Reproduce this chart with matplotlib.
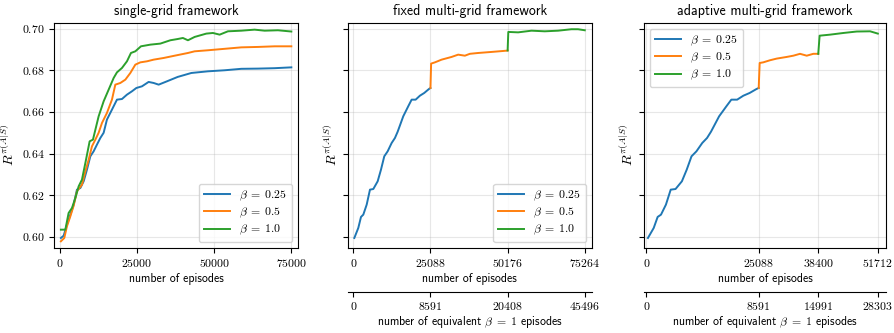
import numpy as np
import matplotlib
matplotlib.use('Agg')
import matplotlib.pyplot as plt

# 字体: 文字用 Computer Modern Sans, 数字/公式用 Computer Modern
plt.rcParams['font.family'] = ['cmss10', 'DejaVu Sans']
plt.rcParams['mathtext.fontset'] = 'cm'
plt.rcParams['axes.unicode_minus'] = False

labels = [r'$\beta\;=\;0.25$', r'$\beta\;=\;0.5$', r'$\beta\;=\;1.0$']
colors = ['#1f77b4', '#ff7f0e', '#2ca02c']
titles = ['single-grid framework', 'fixed multi-grid framework', 'adaptive multi-grid framework']
ylabel = r'$R^{\pi(A|S)}$'

# single-grid
single_blue_x = [400, 1300, 2360, 3460, 4530, 5600, 6700, 7770, 8840, 9930, 11000, 12070, 13170, 14240,
                 15300, 16930, 18550, 20170, 21790, 23400, 24830, 26650, 28800, 30430, 32050, 34740,
                 38200, 42630, 48000, 53410, 58800, 64200, 69600, 75000]
single_blue_y = [0.5995, 0.6006, 0.6059, 0.6107, 0.6155, 0.6227, 0.6235, 0.6267, 0.6323, 0.6387, 0.6411,
                 0.6443, 0.6475, 0.6500, 0.6563, 0.6611, 0.6659, 0.6662, 0.6683, 0.6699, 0.6715, 0.6723,
                 0.6744, 0.6739, 0.6731, 0.6747, 0.6768, 0.6787, 0.6795, 0.6800, 0.6807, 0.6808, 0.6810,
                 0.6814]
single_orange_x = [400, 1500, 2360, 3460, 4530, 5600, 7220, 8320, 9390, 10460, 11550, 12620, 13700, 15300,
                   16930, 18020, 19640, 21270, 22880, 24500, 26120, 28260, 30430, 33660, 37230, 41530,
                   43700, 48000, 53410, 58800, 64200, 69600, 75000]
single_orange_y = [0.5979, 0.5995, 0.6051, 0.6099, 0.6150, 0.6219, 0.6251, 0.6315, 0.6371, 0.6435, 0.6467,
                   0.6500, 0.6547, 0.6595, 0.6659, 0.6731, 0.6739, 0.6755, 0.6787, 0.6827, 0.6838, 0.6843,
                   0.6851, 0.6859, 0.6870, 0.6883, 0.6891, 0.6896, 0.6903, 0.6910, 0.6912, 0.6915, 0.6915]
single_green_x = [400, 1840, 2900, 3990, 5080, 6150, 7220, 8320, 9710, 10780, 12620, 14240, 15860, 17480,
                  18550, 20170, 21790, 23080, 24500, 26320, 29350, 32590, 35830, 38200, 39900, 41530,
                  43700, 47480, 49620, 51790, 54480, 58800, 63100, 66360, 70660, 75000]
single_green_y = [0.6035, 0.6035, 0.6115, 0.6139, 0.6187, 0.6243, 0.6275, 0.6355, 0.6459, 0.6467, 0.6579,
                  0.6651, 0.6707, 0.6763, 0.6790, 0.6811, 0.6843, 0.6883, 0.6891, 0.6915, 0.6923, 0.6928,
                  0.6944, 0.6950, 0.6955, 0.6944, 0.6960, 0.6976, 0.6979, 0.6971, 0.6987, 0.6990, 0.6995,
                  0.6990, 0.6992, 0.6986]

# multi-grid: beta=0.25 阶段两种方法相同
mg_blue_x = [330, 1620, 2500, 3250, 4350, 5420, 6500, 7920, 9000, 10070, 11170, 12470, 13540, 14420,
             16240, 17860, 18970, 20270, 21660, 23060, 24590, 25088]
mg_blue_y = [0.5995, 0.6043, 0.6096, 0.6107, 0.6155, 0.6227, 0.6230, 0.6267, 0.6323, 0.6387, 0.6411,
             0.6451, 0.6475, 0.6505, 0.6579, 0.6627, 0.6659, 0.6659, 0.6678, 0.6691, 0.6710, 0.6715]

fixed_orange_x = [25088, 25300, 26540, 28710, 31960, 34100, 36280, 37900, 40600, 44950, 49820, 50176]
fixed_orange_y = [0.6715, 0.6832, 0.6838, 0.6851, 0.6864, 0.6875, 0.6870, 0.6879, 0.6883, 0.6888, 0.6894, 0.6895]
fixed_green_x = [50176, 50400, 53600, 57940, 62260, 66590, 70930, 73080, 75264]
fixed_green_y = [0.6895, 0.6984, 0.6982, 0.6990, 0.6987, 0.6990, 0.6997, 0.6997, 0.6992]

adapt_orange_x = [25088, 25300, 26100, 27600, 29100, 31350, 32830, 34320, 35820, 37300, 38400]
adapt_orange_y = [0.6715, 0.6835, 0.6838, 0.6848, 0.6856, 0.6864, 0.6870, 0.6879, 0.6870, 0.6879, 0.6879]
adapt_green_x = [38400, 38700, 41040, 44020, 47000, 49990, 51712]
adapt_green_y = [0.6879, 0.6966, 0.6971, 0.6979, 0.6986, 0.6987, 0.6976]

# 刻度
y_ticks = [0.60, 0.62, 0.64, 0.66, 0.68, 0.70]
single_ticks = [0, 25000, 50000, 75000]
fixed_ticks = [0, 25088, 50176, 75264]
fixed_equiv = [0, 8591, 20408, 45496]
adapt_ticks = [0, 25088, 38400, 51712]
adapt_equiv = [0, 8591, 14991, 28303]

series = [
    [(single_blue_x, single_blue_y), (single_orange_x, single_orange_y), (single_green_x, single_green_y)],
    [(mg_blue_x, mg_blue_y), (fixed_orange_x, fixed_orange_y), (fixed_green_x, fixed_green_y)],
    [(mg_blue_x, mg_blue_y), (adapt_orange_x, adapt_orange_y), (adapt_green_x, adapt_green_y)],
]
x_ticks = [single_ticks, fixed_ticks, adapt_ticks]
equiv_ticks = [None, fixed_equiv, adapt_equiv]
x_lims = [(-1840, 77140), (-1820, 77630), (-540, 53550)]
legend_loc = ['lower right', 'lower right', 'upper left']
lefts = [0.0603, 0.3885, 0.7196]
widths = [0.2726, 0.2730, 0.2704]
ylabel_x = [-0.152, -0.033, -0.033]

fig = plt.figure(figsize=(8.95, 3.33), dpi=100)
axes = []
for i in range(3):
    ax = fig.add_axes([lefts[i], 0.2553, widths[i], 0.6757], sharey=axes[0] if axes else None)
    axes.append(ax)
    for (x, y), c, lab in zip(series[i], colors, labels):
        ax.plot(x, y, color=c, lw=1.4, label=lab)
    ax.grid(alpha=0.3)
    ax.set_xlim(*x_lims[i])
    ax.set_ylim(0.5947, 0.7027)
    ax.set_xticks(x_ticks[i])
    ax.set_xticklabels(['$%d$' % t for t in x_ticks[i]], fontsize=8.5)
    ax.set_yticks(y_ticks)
    if i == 0:
        ax.set_yticklabels(['$%.2f$' % t for t in y_ticks], fontsize=8.5)
    else:
        ax.tick_params(axis='y', labelleft=False)
    ax.set_ylabel(ylabel, fontsize=10)
    ax.yaxis.set_label_coords(ylabel_x[i], 0.46)
    ax.set_xlabel('number of episodes', fontsize=8.5, labelpad=2.5)
    ax.set_title(titles[i], fontsize=10)
    ax.legend(loc=legend_loc[i], fontsize=8.5, labelspacing=0.25, borderpad=0.4,
              handlelength=2.2)

    # 第二条x轴: 等效 beta=1 的训练次数
    if equiv_ticks[i] is not None:
        ax2 = ax.twiny()
        ax2.xaxis.set_ticks_position('bottom')
        ax2.xaxis.set_label_position('bottom')
        ax2.spines['bottom'].set_position(('outward', 32))
        for side in ['top', 'left', 'right']:
            ax2.spines[side].set_visible(False)
        ax2.set_xlim(ax.get_xlim())
        ax2.set_xticks(x_ticks[i])
        ax2.set_xticklabels(['$%d$' % t for t in equiv_ticks[i]], fontsize=8.5)
        ax2.tick_params(axis='x', pad=2.5)
        ax2.set_xlabel(r'number of equivalent $\beta\;=\;1$ episodes', fontsize=8.5, labelpad=1)

fig.savefig('out.png', dpi=100)
